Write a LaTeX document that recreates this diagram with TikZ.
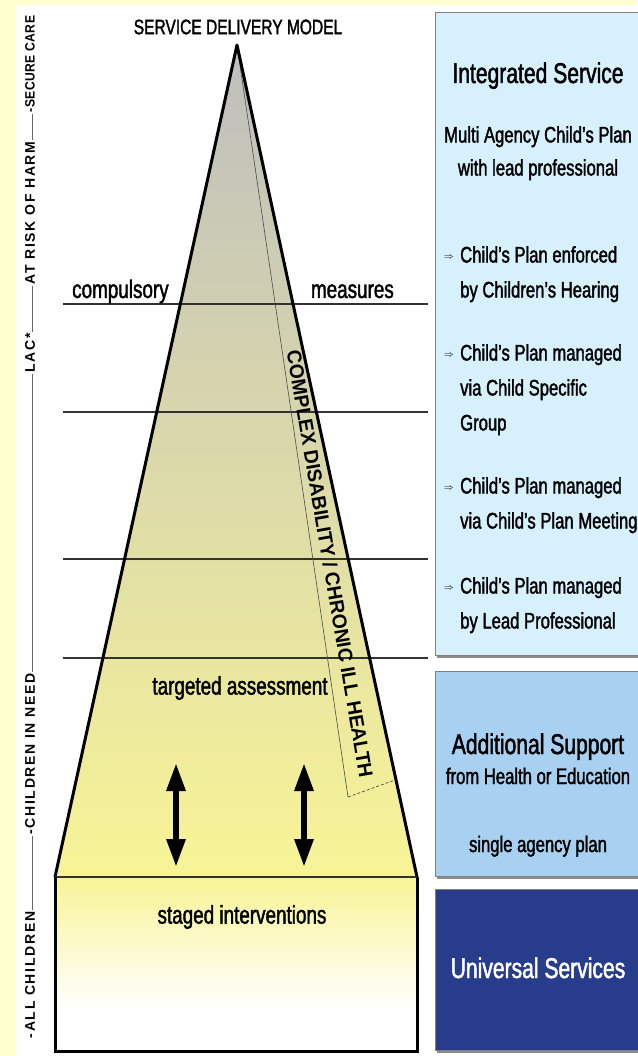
\documentclass[tikz,border=0pt]{standalone}
\usepackage{fontspec}
\setmainfont{Liberation Sans}[FakeStretch=0.74, FakeBold=1.6]
\newfontfamily\widefont{Liberation Sans}[FakeStretch=0.97]
\newfontfamily\sidefont{Liberation Sans}[LetterSpace=12]
\newfontfamily\sidetight{Liberation Sans}[LetterSpace=3, FakeStretch=0.9]
\usetikzlibrary{positioning, calc, arrows.meta}

\definecolor{bgyellow}{RGB}{255,255,208}
\definecolor{pyrtop}{RGB}{190,190,190}
\definecolor{pyrmid}{RGB}{226,226,182}
\definecolor{pyrbot}{RGB}{248,244,150}
\definecolor{intblue}{RGB}{214,240,252}
\definecolor{addblue}{RGB}{168,208,240}
\definecolor{unidark}{RGB}{40,60,140}

\begin{document}
\begin{tikzpicture}[x=1pt, y=-1pt,
    edge/.style={line width=3pt, line join=round},
    level/.style={draw=black!80, line width=1.1pt},
    lbl/.style={font=\fontsize{25.5}{30}\selectfont, inner sep=0pt},
    side/.style={font=\sidefont\bfseries\fontsize{14}{16}\selectfont, rotate=90, fill=white, inner sep=1.5pt},
    panel/.style={draw=black!50, line width=0.8pt},
    ptext/.style={font=\fontsize{22.5}{35}\selectfont, inner sep=0pt, align=left, anchor=north west},
    phead/.style={font=\fontsize{28.5}{34}\selectfont, inner sep=0pt, anchor=base},
    bul/.style={font=\fontsize{10}{10}\selectfont, inner sep=0pt},
    twoway/.style={{Triangle[length=28pt,width=18pt]}-{Triangle[length=28pt,width=18pt]}, line width=6pt}
]
    \useasboundingbox (0,0) rectangle (637,1056);

    % background
    \fill[bgyellow] (0,0) rectangle (637,1056);
    \fill[white] (16,5) rectangle (637,1056);

    % pyramid corners
    \coordinate (apex) at (237,45);
    \coordinate (pl) at (55,877);
    \coordinate (pr) at (417,877);
    \coordinate (bl) at (55,1051);
    \coordinate (br) at (417,1051);

    % fills
    \shade[top color=pyrtop, middle color=pyrmid, bottom color=pyrbot] (apex) -- (pr) -- (pl) -- cycle;
    \shade[top color=pyrbot, bottom color=white] (55,877) rectangle (417,1010);

    % level lines
    \foreach \y in {304,412,559,658} {
        \draw[level] (63,\y) -- (428,\y);
    }

    % complex disability band
    \coordinate (bandend) at (348,797);
    \coordinate (bandedge) at ($(apex)!0.883!(pr)$);
    \draw[black!70, line width=0.6pt] (apex) -- (bandend);
    \draw[black!70, line width=0.7pt, densely dashed] (bandend) -- (bandedge);
    \node[font=\widefont\bfseries\fontsize{20}{20}\selectfont, rotate=-80.3, inner sep=0pt] (band) at (330,564) {COMPLEX DISABILITY / CHRONIC ILL HEALTH};

    % outline
    \draw[edge] (pl) -- (apex) -- (pr);
    \draw[black!80, line width=1.2pt] (pl) -- (pr);
    \draw[line width=3pt, line join=miter] (pl) -- (bl) -- (br) -- (pr);

    % texts in the pyramid
    \node[font=\fontsize{21}{24}\selectfont, inner sep=0pt] (title) at (238,27) {SERVICE DELIVERY MODEL};
    \node[lbl, anchor=base west] (compulsory) at (72,298) {compulsory};
    \node[lbl, anchor=base east] (measures) at (394,298) {measures};
    \node[lbl] (targeted) at (240,688) {targeted assessment};
    \node[lbl] (staged) at (242,917) {staged interventions};

    % two-way arrows
    \coordinate (a1top) at (176,763);
    \coordinate (a1bot) at (176,867);
    \coordinate (a2top) at (304,763);
    \coordinate (a2bot) at (304,867);
    \draw[twoway] (a1top) -- (a1bot);
    \draw[twoway] (a2top) -- (a2bot);

    % side scale
    \draw[black!60, line width=0.6pt] (32,1037) -- (32,15);
    \foreach \y in {430,470,507,560,633} {
        \draw[black!60, line width=0.8pt] (32,\y-3) -- (32,\y+3);
    }
    \node[side] (allch) at (30,975) {-ALL CHILDREN};
    \node[side] (inneed) at (30,754) {-CHILDREN IN NEED};
    \node[side] (lac) at (30,353) {LAC*};
    \node[side] (risk) at (30,213) {AT RISK OF HARM};
    \node[side, font=\sidetight\bfseries\fontsize{13.5}{16}\selectfont] (secure) at (30,64) {-SECURE CARE};

    % panels
    \fill[black!45] (437,15) rectangle (645,658);
    \filldraw[panel, fill=intblue] (435,12) rectangle (645,655);
    \fill[black!45] (437,674) rectangle (645,879);
    \filldraw[panel, fill=addblue] (435,671) rectangle (645,876);
    \fill[black!45] (437,892) rectangle (645,1053);
    \filldraw[panel, fill=unidark] (435,889) rectangle (645,1050);

    % integrated service
    \node[phead] (integ) at (538,83) {Integrated Service};
    \node[font=\fontsize{22.5}{33}\selectfont, inner sep=0pt, align=center, anchor=north] (multi) at (538,126) {Multi Agency Child’s Plan\\with lead professional};
    \node[ptext] (b1) at (460,246) {Child’s Plan enforced\\by Children’s Hearing};
    \node[ptext] (b2) at (460,344) {Child’s Plan managed\\via Child Specific\\Group};
    \node[ptext] (b3) at (460,477) {Child’s Plan managed\\via Child’s Plan Meeting};
    \node[ptext] (b4) at (460,577) {Child’s Plan managed\\by Lead Professional};
    \foreach \b in {b1,b2,b3,b4} {
        \node[bul, left=6pt of \b.north west, yshift=-12pt] {$\Rightarrow$};
    }

    % additional support
    \node[phead] (addsup) at (538,754) {Additional Support};
    \node[font=\fontsize{22.5}{26}\selectfont, inner sep=0pt, anchor=base] (fromhe) at (538,784) {from Health or Education};
    \node[font=\fontsize{22.5}{26}\selectfont, inner sep=0pt, anchor=base] (single) at (538,852) {single agency plan};

    % universal
    \node[phead, text=white] (univ) at (538,978) {Universal Services};

\end{tikzpicture}
\end{document}
